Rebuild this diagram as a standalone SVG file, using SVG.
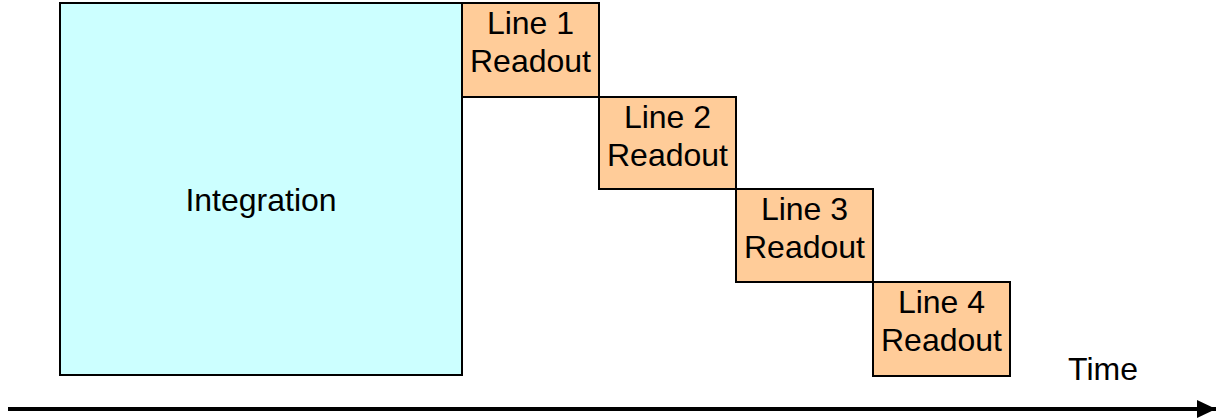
<svg xmlns="http://www.w3.org/2000/svg" width="1219" height="419" viewBox="0 0 1219 419">
<style>
.box{stroke:#000;stroke-width:2}
.int{fill:#CCFFFF}
.ro{fill:#FFCC99}
text{font-family:"Liberation Sans",Arial,sans-serif;font-size:32px;fill:#000;text-anchor:middle}
</style>
<defs>
<marker id="ah" markerWidth="19" markerHeight="18" refX="19" refY="9" orient="auto" markerUnits="userSpaceOnUse">
<path d="M0,0 L19,9 L0,18 Z" fill="#000"/>
</marker>
</defs>
<rect width="1219" height="419" fill="#fff"/>
<g id="integration">
<rect class="box int" x="60" y="3" width="402" height="372"/>
<text x="261" y="211">Integration</text>
</g>
<g id="line1">
<rect class="box ro" x="462" y="3" width="137" height="94"/>
<text x="530.5" y="34">Line 1</text>
<text x="530.5" y="72">Readout</text>
</g>
<g id="line2">
<rect class="box ro" x="599" y="97" width="137" height="92"/>
<text x="667.5" y="128">Line 2</text>
<text x="667.5" y="166">Readout</text>
</g>
<g id="line3">
<rect class="box ro" x="736" y="189" width="137" height="93"/>
<text x="804.5" y="220">Line 3</text>
<text x="804.5" y="258">Readout</text>
</g>
<g id="line4">
<rect class="box ro" x="873" y="282" width="137" height="94"/>
<text x="941.5" y="313">Line 4</text>
<text x="941.5" y="351">Readout</text>
</g>
<g id="time-label">
<text x="1103" y="380">Time</text>
</g>
<g id="connectors">
<line x1="8" y1="409" x2="1216" y2="409" stroke="#000" stroke-width="4" marker-end="url(#ah)"/>
</g>
</svg>
